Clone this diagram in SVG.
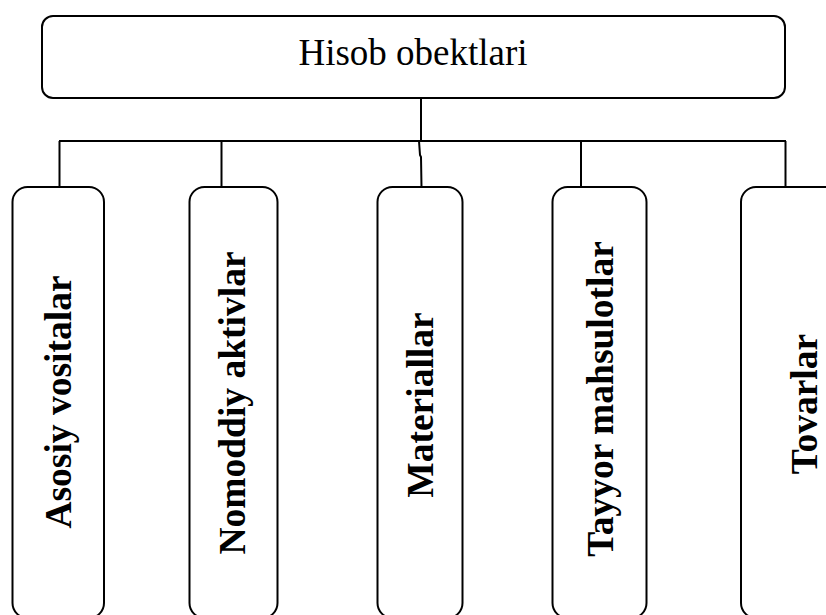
<svg xmlns="http://www.w3.org/2000/svg" width="826" height="615" viewBox="0 0 826 615">
  <style>
    .box { fill: #ffffff; stroke: #000000; stroke-width: 2; }
    .link { fill: none; stroke: #000000; stroke-width: 2; }
    .title { font-family: "Liberation Serif", "Times New Roman", serif; font-size: 37px; fill: #000000; text-anchor: middle; }
    .label { font-family: "Liberation Serif", "Times New Roman", serif; font-size: 37.5px; font-weight: bold; fill: #000000; text-anchor: middle; }
  </style>
  <rect width="826" height="615" fill="#ffffff"/>

  <!-- connectors -->
  <g id="connectors">
    <line class="link" x1="421" y1="98" x2="421" y2="141"/>
    <line class="link" x1="59" y1="141" x2="786" y2="141" stroke-width="2.4"/>
    <line class="link" x1="59.5" y1="141" x2="59.5" y2="187"/>
    <line class="link" x1="221.5" y1="141" x2="221.5" y2="187"/>
    <path class="link" d="M419 141 L420 155 L421 157 L421.5 187"/>
    <line class="link" x1="581" y1="141" x2="581" y2="187"/>
    <line class="link" x1="785.5" y1="141" x2="785.5" y2="187"/>
  </g>

  <!-- root node -->
  <g id="hisob-obektlari">
    <rect class="box" x="42" y="16" width="743" height="82" rx="11" ry="11"/>
    <text class="title" x="413" y="65">Hisob obektlari</text>
  </g>

  <!-- child nodes -->
  <g id="asosiy-vositalar">
    <rect class="box" x="12.5" y="187" width="91.5" height="431" rx="15" ry="15"/>
    <text class="label" transform="translate(71 402) rotate(-90)">Asosiy vositalar</text>
  </g>
  <g id="nomoddiy-aktivlar">
    <rect class="box" x="189.5" y="187" width="88" height="431" rx="15" ry="15"/>
    <text class="label" transform="translate(245 403) rotate(-90)">Nomoddiy aktivlar</text>
  </g>
  <g id="materiallar">
    <rect class="box" x="377.5" y="187" width="85" height="431" rx="15" ry="15"/>
    <text class="label" transform="translate(433 405) rotate(-90)">Materiallar</text>
  </g>
  <g id="tayyor-mahsulotlar">
    <rect class="box" x="552.5" y="187" width="94" height="431" rx="15" ry="15"/>
    <text class="label" transform="translate(613 399) rotate(-90)">Tayyor mahsulotlar</text>
  </g>
  <g id="tovarlar">
    <rect class="box" x="741" y="187" width="100" height="431" rx="15" ry="15"/>
    <text class="label" transform="translate(817 404) rotate(-90)">Tovarlar</text>
  </g>
</svg>
